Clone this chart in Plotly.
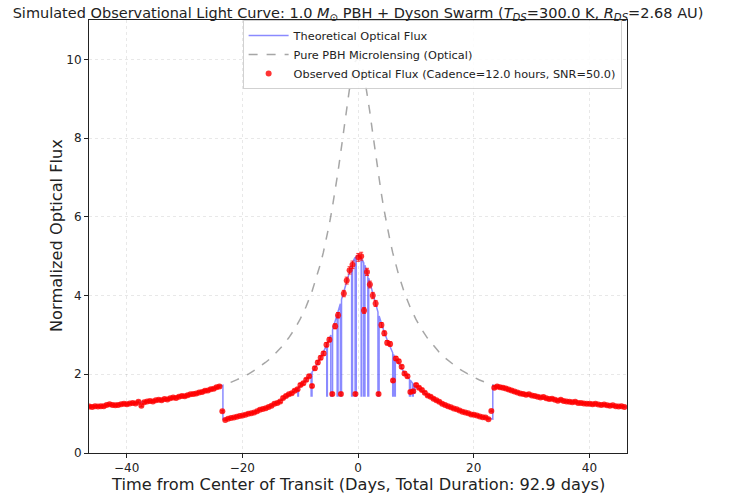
import numpy as np
import plotly.graph_objects as go

# ---------------- data ----------------
# Pure PBH microlensing curve (optical magnification)
lens_t = [-46.45, -44, -42, -40, -38, -36, -34, -32, -30, -29, -28, -27, -26, -25, -24, -23, -22, -21, -20,
          -19, -18, -17, -16, -15, -14, -13, -12, -11, -10, -9, -8, -7, -6.5, -6, -5.5, -5, -4.5, -4, -3.5,
          -3, -2.5, -2, -1.5, -1, -0.5, 0, 0.5, 1, 1.5, 2, 2.5, 3, 3.5, 4, 4.5, 5, 5.5, 6, 6.5, 7, 8, 9, 10,
          11, 12, 13, 14, 15, 16, 17, 18, 19, 20, 21, 22, 23, 24, 25, 26, 27, 28, 29, 30, 32, 34, 36, 38,
          40, 42, 44, 46.45]
lens_flux = [1.177, 1.201, 1.224, 1.250, 1.280, 1.315, 1.355, 1.401, 1.455, 1.486, 1.519, 1.555, 1.594,
             1.637, 1.684, 1.736, 1.793, 1.856, 1.926, 2.00, 2.09, 2.19, 2.30, 2.42, 2.565, 2.73, 2.92, 3.14,
             3.40, 3.71, 4.08, 4.54, 4.80, 5.09, 5.42, 5.78, 6.18, 6.62, 7.10, 7.62, 8.17, 8.71, 9.22, 9.65,
             9.94, 10.04, 9.94, 9.65, 9.22, 8.71, 8.17, 7.62, 7.10, 6.62, 6.18, 5.78, 5.42, 5.09, 4.80, 4.54,
             4.08, 3.71, 3.40, 3.14, 2.92, 2.73, 2.565, 2.42, 2.30, 2.19, 2.09, 2.00, 1.926, 1.856, 1.793,
             1.736, 1.684, 1.637, 1.594, 1.555, 1.519, 1.486, 1.455, 1.401, 1.355, 1.315, 1.280, 1.250,
             1.224, 1.201, 1.177]

# Theoretical optical flux (lensing + Dyson swarm occultation)
theo_t = [-46.45, -44, -42, -40, -38, -36, -34, -32, -30, -29, -28, -27, -26, -25, -24, -23.35, -23.35,
          -23, -22, -21, -20, -19, -18, -17, -16, -15, -14, -13, -12, -11, -10.4, -10.4, -10.3, -10.3, -10,
          -9, -8.1, -8.1, -7.95, -7.95, -7, -5.4, -5.4, -5.3, -5.3, -5, -4.7, -4.7, -4.4, -4.4, -4, -3.6,
          -3.6, -3.45, -3.45, -3.05, -3.05, -2.85, -2.85, -2.5, -2, -1.5, -1.1, -1.1, -0.95, -0.95, -0.5,
          -0.5, -0.3, -0.3, 0, 0.5, 0.55, 0.55, 0.65, 0.65, 1.0, 1.0, 1.2, 1.2, 1.7, 1.7, 1.85, 1.85, 2,
          2.5, 3, 3.45, 3.45, 3.65, 3.65, 4, 4.5, 5, 5.5, 6, 6.0, 6.15, 6.15, 6.3, 6.3, 6.45, 6.45, 7, 8,
          8.9, 8.9, 9.05, 9.05, 9.4, 9.4, 9.55, 9.55, 9.8, 9.8, 9.9, 9.9, 10, 11, 12, 13, 14, 15, 16, 17,
          18, 19, 20, 21, 22, 23, 23.3, 23.3, 24, 25, 26, 27, 28, 29, 30, 32, 34, 36, 38, 40, 42, 44, 46.45]
theo_flux = [1.177, 1.201, 1.224, 1.250, 1.280, 1.315, 1.355, 1.401, 1.455, 1.486, 1.519, 1.555, 1.594,
             1.637, 1.684, 1.718, 0.859, 0.868, 0.897, 0.928, 0.963, 1.00, 1.045, 1.095, 1.15, 1.21, 1.283,
             1.365, 1.46, 1.57, 1.65, 1.45, 1.45, 1.66, 1.70, 1.855, 2.03, 1.45, 1.45, 2.05, 2.27, 2.74,
             1.45, 1.45, 2.77, 2.89, 3.0, 1.45, 1.45, 3.13, 3.31, 3.52, 1.45, 1.45, 3.59, 3.79, 1.45, 1.45,
             3.90, 4.085, 4.355, 4.61, 4.78, 1.45, 1.45, 4.84, 4.97, 1.45, 1.45, 5.0, 5.02, 4.97, 4.96,
             1.45, 1.45, 4.94, 4.83, 1.45, 1.45, 4.77, 4.52, 1.45, 1.45, 4.44, 4.355, 4.085, 3.81, 3.58,
             1.45, 1.45, 3.48, 3.31, 3.09, 2.89, 2.71, 2.545, 1.45, 1.45, 2.50, 2.45, 1.45, 1.45, 2.41,
             2.27, 2.04, 1.87, 1.45, 1.45, 1.85, 1.78, 1.45, 1.45, 1.76, 1.72, 1.50, 1.50, 1.71, 1.70,
             1.57, 1.46, 1.365, 1.283, 1.21, 1.15, 1.095, 1.045, 1.00, 0.963, 0.928, 0.897, 0.868, 0.862,
             1.722, 1.684, 1.637, 1.594, 1.555, 1.519, 1.486, 1.455, 1.401, 1.355, 1.315, 1.280, 1.250,
             1.224, 1.201, 1.177]

# Observations: every 12 hours (0.5 day) starting at the left edge
obs_start = -46.45
obs_cadence = 0.5
obs_flux = [1.18, 1.17, 1.19, 1.18, 1.19, 1.19, 1.22, 1.24, 1.22, 1.21, 1.22, 1.24, 1.25, 1.24, 1.26, 1.27,
            1.26, 1.30, 1.20, 1.29, 1.31, 1.32, 1.31, 1.34, 1.35, 1.34, 1.37, 1.36, 1.39, 1.41, 1.40, 1.43,
            1.45, 1.44, 1.47, 1.49, 1.50, 1.51, 1.54, 1.55, 1.58, 1.59, 1.62, 1.63, 1.67, 1.69, 1.06, 0.84,
            0.87, 0.89, 0.90, 0.92, 0.94, 0.95, 0.97, 1.00, 1.01, 1.03, 1.06, 1.10, 1.12, 1.14, 1.17, 1.20,
            1.25, 1.27, 1.31, 1.40, 1.45, 1.49, 1.52, 1.58, 1.62, 1.73, 1.77, 1.86, 1.95, 1.70, 2.15, 2.30,
            2.42, 2.53, 2.75, 2.88, 1.50, 3.22, 3.50, 1.50, 4.05, 4.38, 4.64, 4.78, 1.50, 4.97, 5.00, 3.62,
            4.60, 4.28, 4.00, 3.80, 1.50, 3.25, 3.04, 2.80, 2.77, 1.84, 2.40, 2.33, 2.19, 2.02, 1.95, 1.55,
            1.57, 1.73, 1.66, 1.60, 1.53, 1.46, 1.43, 1.38, 1.34, 1.30, 1.25, 1.22, 1.19, 1.16, 1.13, 1.11,
            1.08, 1.05, 1.03, 1.01, 0.98, 0.97, 0.95, 0.93, 0.91, 0.90, 0.86, 1.07, 1.66, 1.69, 1.67, 1.66,
            1.64, 1.61, 1.59, 1.56, 1.54, 1.51, 1.50, 1.48, 1.49, 1.46, 1.45, 1.43, 1.41, 1.42, 1.39, 1.37,
            1.38, 1.35, 1.33, 1.35, 1.32, 1.31, 1.30, 1.29, 1.30, 1.27, 1.27, 1.26, 1.25, 1.25, 1.24, 1.25,
            1.23, 1.22, 1.23, 1.21, 1.20, 1.21, 1.19, 1.18, 1.19, 1.17]
snr = 50.0

x_ticks = [-40, -20, 0, 20, 40]
y_ticks = [0, 2, 4, 6, 8, 10]

# ---------------- figure ----------------
obs_t = [obs_start + obs_cadence * i for i in range(len(obs_flux))]
obs_err = [f / snr for f in obs_flux]

FONT = "DejaVu Sans"
fig = go.Figure()
fig.add_trace(go.Scatter(x=theo_t, y=theo_flux, mode="lines", name="Theoretical Optical Flux",
                         line=dict(color="rgba(60,60,255,0.6)", width=1.5)))
fig.add_trace(go.Scatter(x=lens_t, y=lens_flux, mode="lines", name="Pure PBH Microlensing (Optical)",
                         line=dict(color="rgba(128,128,128,0.7)", width=1.5, dash="dash")))
fig.add_trace(go.Scatter(x=obs_t, y=obs_flux, mode="markers",
                         name="Observed Optical Flux (Cadence=12.0 hours, SNR=50.0)",
                         marker=dict(color="rgba(255,0,0,0.8)", size=6),
                         error_y=dict(type="data", array=obs_err, color="rgba(255,0,0,0.8)",
                                      thickness=1, width=2)))

axis_common = dict(showline=True, linecolor="#222", linewidth=1, mirror=True, ticks="outside",
                   ticklen=4, tickcolor="#222", showgrid=True, gridcolor="rgba(0,0,0,0.09)",
                   griddash="dot", gridwidth=1, zeroline=False, automargin=False,
                   tickfont=dict(family=FONT, size=12, color="#222"))

PLOT_L, PLOT_R, PLOT_T, PLOT_B = 89, 627, 20, 453
pw, ph = PLOT_R - PLOT_L, PLOT_B - PLOT_T

fig.update_layout(
    width=733, height=495,
    margin=dict(l=PLOT_L, r=733 - PLOT_R, t=PLOT_T, b=495 - PLOT_B),
    paper_bgcolor="white", plot_bgcolor="white",
    font=dict(family=FONT, color="#222"),
    title=dict(text="Simulated Observational Light Curve: 1.0 <i>M</i><sub>⊙</sub> PBH + Dyson Swarm "
                    "(<i>T</i><sub><i>DS</i></sub>=300.0 K, <i>R</i><sub><i>DS</i></sub>=2.68 AU)",
               x=(PLOT_L + PLOT_R) / 2 / 733, xanchor="center", y=0.985, yanchor="top",
               font=dict(family=FONT, size=14.5, color="#222")),
    xaxis=dict(range=[-46.5, 46.5], tickvals=x_ticks, **axis_common),
    yaxis=dict(range=[0, 11.0], tickvals=y_ticks, **axis_common),
    showlegend=True,
    legend=dict(x=0.99, y=1.0, xanchor="right", yanchor="top", bgcolor="rgba(255,255,255,0.85)",
                bordercolor="rgba(0,0,0,0.18)", borderwidth=1, font=dict(family=FONT, size=11.3),
                tracegroupgap=0, itemwidth=40),
    annotations=[
        dict(text="Time from Center of Transit (Days, Total Duration: 92.9 days)", xref="paper",
             yref="paper", x=0.5, y=(PLOT_B - 484) / ph, xanchor="center", yanchor="middle",
             showarrow=False, font=dict(family=FONT, size=16.2, color="#222")),
        dict(text="Normalized Optical Flux", xref="paper", yref="paper", x=(57 - PLOT_L) / pw,
             y=(PLOT_B - 236) / ph, xanchor="center", yanchor="middle", textangle=-90,
             showarrow=False, font=dict(family=FONT, size=16.2, color="#222")),
    ],
)
fig.write_html("out.html")
